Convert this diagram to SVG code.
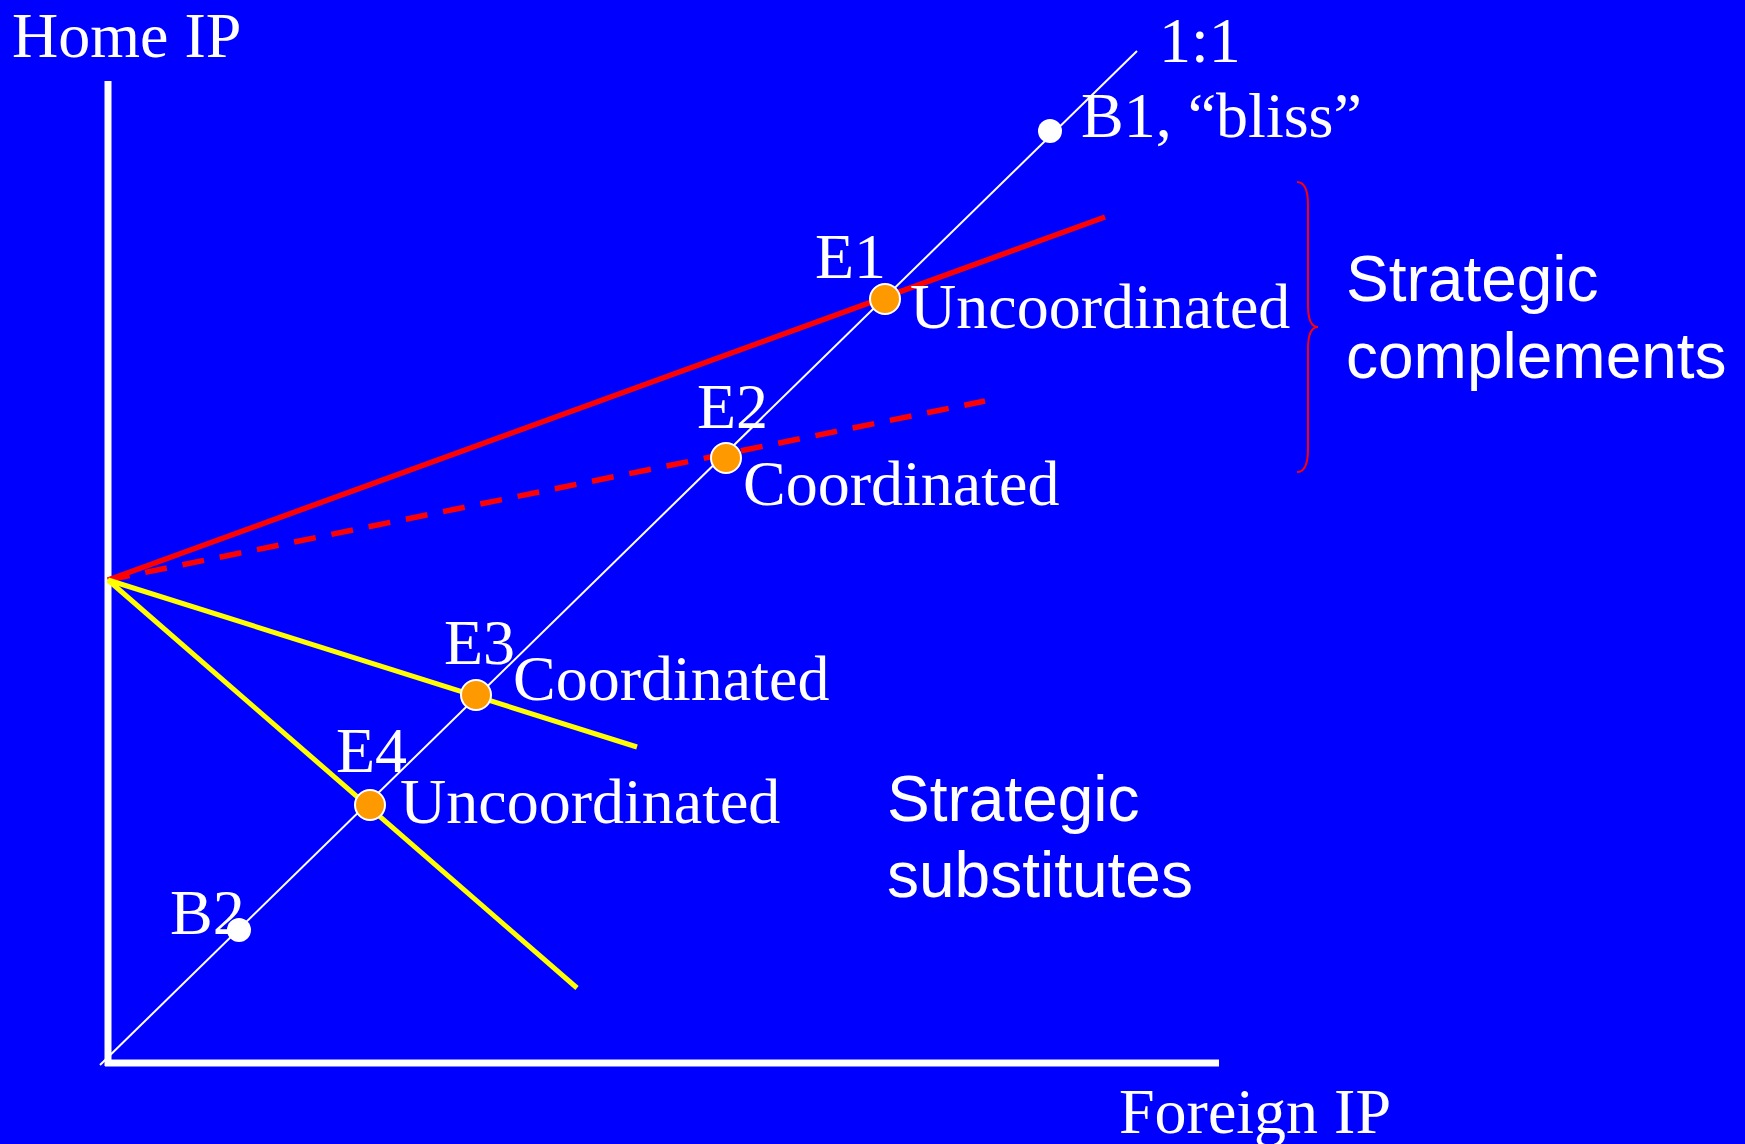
<svg xmlns="http://www.w3.org/2000/svg" width="1745" height="1144" viewBox="0 0 1745 1144">
<style>
.serif{font-family:"Liberation Serif","Times New Roman",serif;font-size:64px;fill:#FFFFFF}
.sans{font-family:"Liberation Sans",Arial,sans-serif;font-size:64px;fill:#FFFFFF}
.eq{fill:#FF9900;stroke:#FFFFFF;stroke-width:2}
.bliss{fill:#FFFFFF}
.axis{stroke:#FFFFFF;stroke-width:7;fill:none}
.red{stroke:#FF0000;stroke-width:5.5;fill:none}
.yel{stroke:#FFFF00;stroke-width:5;fill:none}
</style>
<rect x="0" y="0" width="1745" height="1144" fill="#0000FF"/>
<g id="axes">
<line class="axis" x1="108" y1="81" x2="108" y2="1066"/>
<line class="axis" x1="105" y1="1063" x2="1219" y2="1063"/>
<text class="serif" x="12" y="57">Home IP</text>
<text class="serif" x="1119" y="1133">Foreign IP</text>
</g>
<g id="connectors">
<line x1="100" y1="1065" x2="1137" y2="51" stroke="#FFFFFF" stroke-width="2"/>
<line class="red" x1="108" y1="580" x2="1105" y2="217"/>
<line class="red" x1="108" y1="580" x2="985" y2="401" stroke-dasharray="22 16"/>
<line class="yel" x1="108" y1="580" x2="637" y2="747"/>
<line class="yel" x1="108" y1="580" x2="577" y2="988"/>
<path d="M1297,182 Q1308,182 1308,205 L1308,305 Q1308,327 1318,327 Q1308,327 1308,349 L1308,449 Q1308,472 1297,472" stroke="#FF0000" stroke-width="2" fill="none"/>
</g>
<g id="line11"><text class="serif" x="1159" y="62">1:1</text></g>
<g id="B1"><circle class="bliss" cx="1050" cy="131" r="12"/><text class="serif" x="1081" y="137">B1, “bliss”</text></g>
<g id="E1"><circle class="eq" cx="885" cy="299" r="15"/><text class="serif" x="815" y="278">E1</text><text class="serif" x="910" y="328">Uncoordinated</text></g>
<g id="E2"><circle class="eq" cx="726" cy="458" r="15"/><text class="serif" x="697" y="428">E2</text><text class="serif" x="743" y="505">Coordinated</text></g>
<g id="E3"><circle class="eq" cx="476" cy="695" r="15"/><text class="serif" x="444" y="664">E3</text><text class="serif" x="513" y="700">Coordinated</text></g>
<g id="E4"><circle class="eq" cx="370" cy="805" r="15"/><text class="serif" x="336" y="772">E4</text><text class="serif" x="400" y="823">Uncoordinated</text></g>
<g id="B2"><text class="serif" x="170" y="934">B2</text><circle class="bliss" cx="239" cy="930" r="12"/></g>
<g id="complements"><text class="sans" x="1346" y="301">Strategic</text><text class="sans" x="1346" y="378">complements</text></g>
<g id="substitutes"><text class="sans" x="887" y="821">Strategic</text><text class="sans" x="887" y="897">substitutes</text></g>
</svg>
